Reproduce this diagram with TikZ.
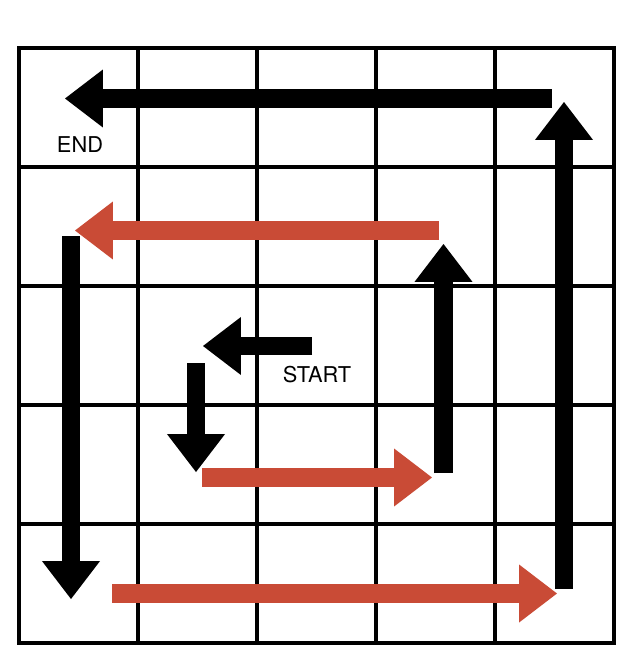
\documentclass[tikz,border=0pt]{standalone}
\usepackage{fontspec}
\setmainfont{TeX Gyre Heros}
\usetikzlibrary{arrows.meta, positioning}
\definecolor{spiralred}{HTML}{C94B36}
\tikzset{
  % linee della griglia
  gridline/.style={line width=2.6pt, black},
  gridborder/.style={line width=3.4pt, black},
  % freccia spessa del percorso
  bigarrow/.style={line width=13.5pt,
    -{Triangle[length=27pt, width=41.3pt, line width=0pt]}},
  blackarrow/.style={bigarrow, black},
  redarrow/.style={bigarrow, spiralred},
  % etichette
  lbl/.style={font=\fontsize{15.5}{18}\selectfont, inner sep=0pt},
}
\begin{document}
\begin{tikzpicture}[x=0.025cm, y=-0.025cm]
  \useasboundingbox (0,0) rectangle (634,672);
  % griglia 5x5
  \foreach \k in {1,...,4} {
    \draw[gridline] (19+119*\k,48) -- (19+119*\k,643);
    \draw[gridline] (19,48+119*\k) -- (614,48+119*\k);
  }
  \draw[gridborder] (19,48) rectangle (614,643);
  % estremi delle frecce
  \coordinate (startr) at (312,346);   \coordinate (startl) at (203,346);
  \coordinate (downt) at (196,363);    \coordinate (downb) at (196,472);
  \coordinate (midl) at (202,477.5);   \coordinate (midr) at (432,477.5);
  \coordinate (upinb) at (443.5,473);  \coordinate (upint) at (443.5,244);
  \coordinate (redtr) at (439,230.5);  \coordinate (redtl) at (75,230.5);
  \coordinate (leftt) at (71,236);     \coordinate (leftb) at (71,599);
  \coordinate (botl) at (112,593.5);   \coordinate (botr) at (557,593.5);
  \coordinate (rightb) at (564,589);   \coordinate (rightt) at (564,102);
  \coordinate (topr) at (552,98.5);    \coordinate (topl) at (65,98.5);
  % percorso a spirale
  \draw[blackarrow] (startr) -- (startl);
  \draw[blackarrow] (downt) -- (downb);
  \draw[redarrow] (midl) -- (midr);
  \draw[blackarrow] (upinb) -- (upint);
  \draw[redarrow] (redtr) -- (redtl);
  \draw[blackarrow] (leftt) -- (leftb);
  \draw[redarrow] (botl) -- (botr);
  \draw[blackarrow] (rightb) -- (rightt);
  \draw[blackarrow] (topr) -- (topl);
  \node[lbl] (start) at (317,375) {START};
  \node[lbl] (end) at (80,145) {END};
\end{tikzpicture}
\end{document}
